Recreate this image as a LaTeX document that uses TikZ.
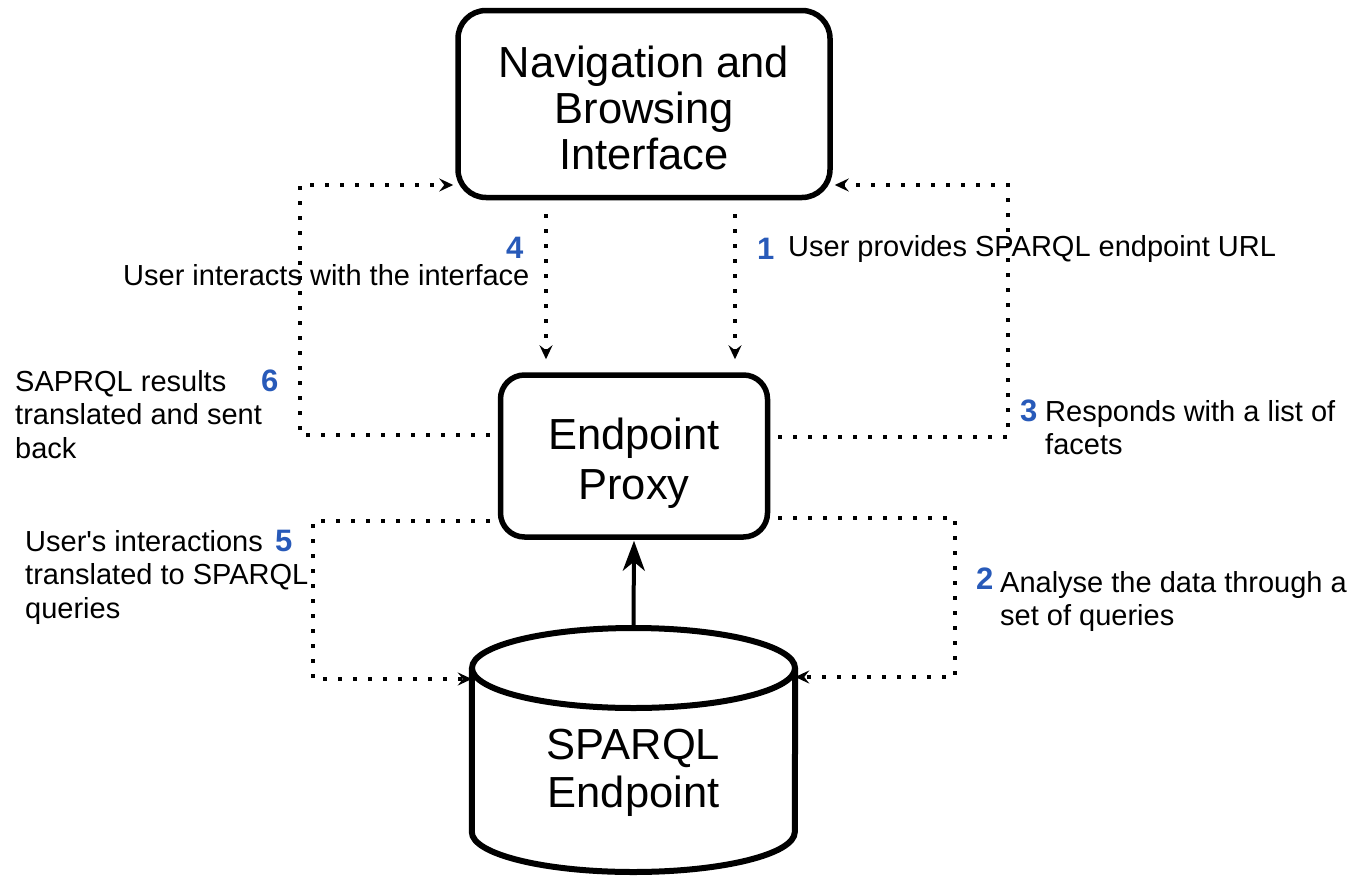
\documentclass[tikz,border=0pt]{standalone}
\usepackage{fontspec}
\setmainfont{Liberation Sans}
\usetikzlibrary{arrows.meta,calc}
\definecolor{numblue}{RGB}{40,90,185}
\tikzset{
  boxtext/.style={font=\fontsize{43.5}{46}\selectfont, align=center},
  roundbox/.style={draw, rounded corners=28pt, line width=5.5pt, boxtext, inner sep=0pt},
  lbl/.style={font=\fontsize{29}{33.5}\selectfont, align=left, anchor=base west, inner sep=0pt},
  num/.style={font=\fontsize{31}{33}\selectfont\bfseries, text=numblue, anchor=base west, inner sep=0pt},
  dotline/.style={line width=3.5pt, dash pattern=on 3.5pt off 11.5pt},
  dotarr/.style={dotline, -{Stealth[length=14pt,width=13pt,inset=5pt]}},
  solidarr/.style={line width=4pt, -{Stealth[length=30pt,width=22pt,inset=9pt]}}
}
\begin{document}
\begin{tikzpicture}[x=1pt,y=-1pt]
\useasboundingbox[fill=white] (0,0) rectangle (1349,878);

% main nodes
\node[roundbox, minimum width=372pt, minimum height=187pt] (nav) at (644,104) {};
\node[boxtext] (navtext) at (644,108) {Navigation and\\Browsing\\Interface};
\node[roundbox, minimum width=267pt, minimum height=162pt, rounded corners=24pt] (proxy) at (634,456) {};
\node[boxtext, font=\fontsize{43.5}{50}\selectfont] (proxytext) at (634,463) {Endpoint\\Proxy};

% cylinder
\node[boxtext, minimum width=323pt, minimum height=244pt, inner sep=0pt] (db) at (633.5,750) {};
\draw[line width=6pt] (db.west |- 0,668) -- (db.west |- 0,832) arc (180:360:161.5pt and 40pt) -- (db.east |- 0,668);
\draw[line width=6pt] (633.5,668) ellipse [x radius=161.5pt, y radius=40pt];
\node[boxtext, font=\fontsize{43.5}{48}\selectfont] (dbtext) at (633.5,773) {SPARQL\\Endpoint};
\coordinate (dbtop) at (633.5,628);

% corner coordinates
\coordinate (c4) at (546,0);
\coordinate (c1) at (735,0);
\coordinate (cA) at (300,435);
\coordinate (cB) at (300,185);
\coordinate (cC) at (1008,437);
\coordinate (cD) at (1008,185);
\coordinate (cE) at (313,521);
\coordinate (cF) at (313,679);
\coordinate (cG) at (955,518);
\coordinate (cH) at (955,677);

% connectors
\draw[dotarr, shorten <=14pt, shorten >=13pt] (nav.south -| c4) -- (proxy.north -| c4);
\draw[dotarr, shorten <=14pt, shorten >=13pt] (nav.south -| c1) -- (proxy.north -| c1);
\draw[dotarr, shorten <=8pt, shorten >=2pt] (proxy.west |- cA) -- (cA) -- (cB) -- (nav.west |- cB);
\draw[dotarr, shorten <=8pt, shorten >=2pt] (proxy.east |- cC) -- (cC) -- (cD) -- (nav.east |- cD);
\draw[dotarr, shorten <=8pt, shorten >=0pt] (proxy.west |- cE) -- (cE) -- (cF) -- (db.west |- cF);
\draw[dotarr, shorten <=8pt, shorten >=0pt] (proxy.east |- cG) -- (cG) -- (cH) -- (db.east |- cH);
\draw[solidarr, shorten >=1pt] (dbtop) -- (proxy.south);

% labels (anchor = baseline of last line)
\node[num] (n4) at (506,258) {4};
\node[lbl] (l4) at (123,285) {User interacts with the interface};
\node[num] (n1) at (757,259) {1};
\node[lbl] (l1) at (788,256) {User provides SPARQL endpoint URL};
\node[num] (n3) at (1020,421) {3};
\node[lbl] (l3) at (1045,454.5) {Responds with a list of\\facets};
\node[num] (n2) at (976,589) {2};
\node[lbl] (l2) at (1000,625.5) {Analyse the data through a\\set of queries};
\node[num] (n6) at (261,391) {6};
\node[lbl] (l6) at (15,458) {SAPRQL results\\translated and sent\\back};
\node[num] (n5) at (275,551) {5};
\node[lbl] (l5) at (25,618) {User\textquotesingle s interactions\\translated to SPARQL\\queries};
\end{tikzpicture}
\end{document}
